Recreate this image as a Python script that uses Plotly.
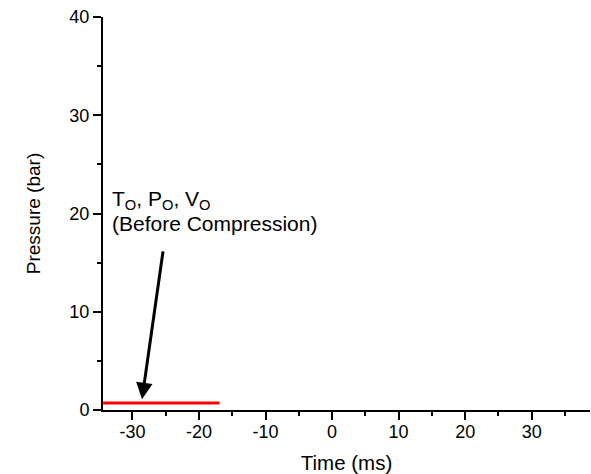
import plotly.graph_objects as go

# Data
time_ms = [-34.4, -16.9]
pressure_bar = [0.7, 0.7]

x_ticks = [-30, -20, -10, 0, 10, 20, 30]
y_ticks = [0, 10, 20, 30, 40]

arrow_tip = (-28.56, 1.09)
arrow_tail = (-25.37, 16.3)

label_line1 = "T<sub>O</sub>, P<sub>O</sub>, V<sub>O</sub>"
label_line2 = "(Before Compression)"

FONT = "Liberation Sans, Arial, sans-serif"

fig = go.Figure()
fig.add_trace(go.Scatter(
    x=time_ms, y=pressure_bar, mode="lines",
    line=dict(color="#ff0000", width=3), showlegend=False, hoverinfo="skip"))

axis_common = dict(
    showline=True, linecolor="black", linewidth=2,
    ticks="outside", ticklen=8, tickwidth=2, tickcolor="black",
    showgrid=False, zeroline=False,
    tickfont=dict(family=FONT, size=18, color="black"),
    minor=dict(ticks="outside", ticklen=4, tickwidth=2, tickcolor="black", dtick=5, showgrid=False),
)

fig.update_xaxes(
    range=[-34.42, 38.76], tickvals=x_ticks, ticktext=[str(v) for v in x_ticks],
    ticklabelstandoff=-4,
    title=dict(text="Time (ms)", font=dict(family=FONT, size=20.5, color="black"), standoff=16),
    **axis_common)
fig.update_yaxes(
    range=[0, 40], tickvals=y_ticks, ticktext=[str(v) for v in y_ticks],
    title=dict(text="Pressure (bar)", font=dict(family=FONT, size=19, color="black"), standoff=24),
    **axis_common)

fig.add_annotation(
    x=arrow_tip[0], y=arrow_tip[1], ax=arrow_tail[0], ay=arrow_tail[1],
    xref="x", yref="y", axref="x", ayref="y", text="",
    showarrow=True, arrowhead=2, arrowsize=1.1, arrowwidth=3, arrowcolor="black")

fig.add_annotation(
    x=-33.4, y=21.4, xref="x", yref="y", text=label_line1, showarrow=False,
    xanchor="left", yanchor="middle", font=dict(family=FONT, size=21, color="black"))
fig.add_annotation(
    x=-33.4, y=19.0, xref="x", yref="y", text=label_line2, showarrow=False,
    xanchor="left", yanchor="middle", font=dict(family=FONT, size=21, color="black"))

fig.update_layout(
    width=591, height=474,
    margin=dict(l=103, r=1, t=17, b=64, autoexpand=False),
    plot_bgcolor="white", paper_bgcolor="white",
)

fig.write_html("out.html")
